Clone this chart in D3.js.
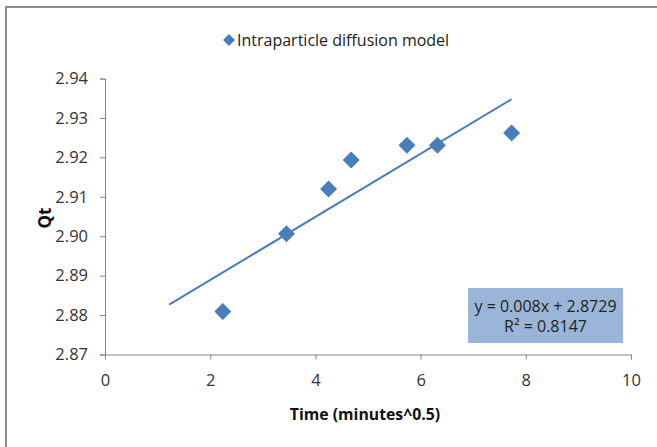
<!DOCTYPE html>
<html><head><meta charset="utf-8">
<script src="https://cdn.jsdelivr.net/npm/d3@7/dist/d3.min.js"></script>
<style>body{margin:0;background:#fff}svg{display:block}</style>
</head><body>
<script>
const seriesName = "Intraparticle diffusion model";
const timeX = [2.24, 3.45, 4.25, 4.68, 5.74, 6.32, 7.73];
const qtValues = [2.8809, 2.9006, 2.9120, 2.9193, 2.9231, 2.9231, 2.9262];
const xTicks = [0, 2, 4, 6, 8, 10];
const yTicks = [2.87, 2.88, 2.89, 2.90, 2.91, 2.92, 2.93, 2.94];
const trendSlope = 0.008, trendIntercept = 2.8729;
const trendRange = [1.22, 7.73];
const equationLines = ["y = 0.008x + 2.8729", "R² = 0.8147"];

const W = 657, H = 447;
const svg = d3.select("body").append("svg").attr("width", W).attr("height", H);
const font = "'Open Sans', sans-serif";
const blue = "#4A7EBB";

// chart border
svg.append("path").attr("d", `M6,${H} V7 H${W}`).attr("fill","none").attr("stroke","#8c8c8c").attr("stroke-width",2);

const x = d3.scaleLinear().domain([0,10]).range([105,631]);
const y = d3.scaleLinear().domain([2.87,2.94]).range([354.5,78.5]);

const xAxis = svg.append("g").attr("transform","translate(0,354.5)")
  .call(d3.axisBottom(x).tickValues(xTicks).tickSize(5).tickPadding(15).tickFormat(d3.format("d")));
const yAxis = svg.append("g").attr("transform","translate(105,0)")
  .call(d3.axisLeft(y).tickValues(yTicks).tickSize(5).tickPadding(12).tickFormat(d3.format(".2f")));
[xAxis,yAxis].forEach(g=>{
  g.select(".domain").attr("stroke","#868686");
  g.selectAll(".tick line").attr("stroke","#868686");
  g.selectAll(".tick text").attr("font-family",font).attr("font-size",16.5).attr("fill","#333");
});

// trendline
svg.append("line")
  .attr("x1", x(trendRange[0])).attr("y1", y(trendSlope*trendRange[0]+trendIntercept))
  .attr("x2", x(trendRange[1])).attr("y2", y(trendSlope*trendRange[1]+trendIntercept))
  .attr("stroke", blue).attr("stroke-width", 2);

// markers
const diamond = (cx,cy,r)=>`M${cx},${cy-r}L${cx+r},${cy}L${cx},${cy+r}L${cx-r},${cy}Z`;
svg.append("g").selectAll("path").data(timeX.map((t,i)=>[t,qtValues[i]])).join("path")
  .attr("d", d=>diamond(x(d[0]), y(d[1]), 8.5)).attr("fill", blue);

// equation box
const bx = 468, by = 288;
svg.append("rect").attr("x",bx).attr("y",by).attr("width",155).attr("height",55).attr("fill","#9AB5D8");
svg.append("g").selectAll("text").data(equationLines).join("text")
  .attr("x", bx+77.5).attr("y",(d,i)=>by+24+i*20).attr("text-anchor","middle")
  .attr("font-family",font).attr("font-size",16).attr("fill","#222").text(d=>d);

// legend
svg.append("path").attr("d", diamond(229,40,6)).attr("fill", blue);
svg.append("text").attr("x",237).attr("y",46).attr("font-family",font).attr("font-size",16)
  .attr("fill","#222").text(seriesName);

// axis titles
svg.append("text").attr("x",365).attr("y",420).attr("text-anchor","middle")
  .attr("font-family",font).attr("font-size",15.8).attr("font-weight","bold").attr("fill","#111")
  .text("Time (minutes^0.5)");
svg.append("text").attr("transform","translate(51,218) rotate(-90)").attr("text-anchor","middle")
  .attr("font-family",font).attr("font-size",17).attr("font-weight","bold").attr("fill","#111")
  .text("Qt");
</script>
</body></html>
